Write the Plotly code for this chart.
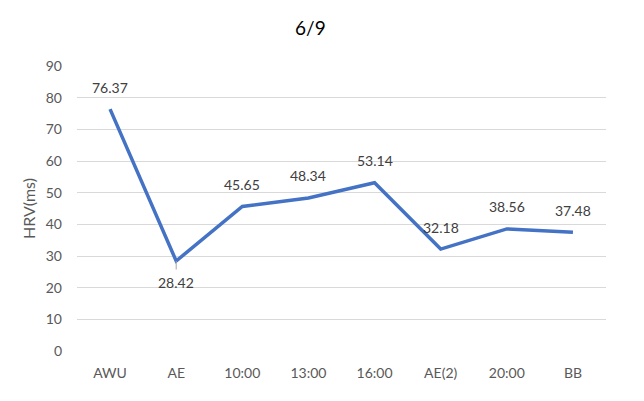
import plotly.graph_objects as go

categories = ["AWU", "AE", "10:00", "13:00", "16:00", "AE(2)", "20:00", "BB"]
hrv = [76.37, 28.42, 45.65, 48.34, 53.14, 32.18, 38.56, 37.48]
y_ticks = list(range(0, 91, 10))

# label offsets (pixels) for data labels, as in the reference
label_dy = [22, -21, 22, 22, 22, 22, 22, 22]

FONT = "Lato, Open Sans, sans-serif"

fig = go.Figure()
fig.add_trace(go.Scatter(
    x=categories, y=hrv, mode="lines",
    line=dict(color="#4472C4", width=3.5),
    hoverinfo="x+y", showlegend=False,
))

for c, v, dy in zip(categories, hrv, label_dy):
    fig.add_annotation(x=c, y=v, text=f"{v:.2f}", showarrow=False,
                       yshift=dy,
                       font=dict(family=FONT, size=14, color="#404040"))

# leader line for the AE label
fig.add_annotation(x=categories[1], y=hrv[1], text="", showarrow=True,
                   ax=0, ay=10, arrowhead=0, arrowwidth=1, arrowcolor="#A6A6A6",
                   standoff=0, startstandoff=0)

fig.update_layout(
    width=644, height=401,
    margin=dict(l=77, r=38, t=66, b=50),
    paper_bgcolor="white", plot_bgcolor="white",
    title=dict(text="6/9", x=0.482, xanchor="center", y=0.93, yanchor="middle",
               font=dict(family=FONT, size=19, color="#000000")),
    font=dict(family=FONT, size=14, color="#595959"),
    xaxis=dict(type="category", range=[-0.5, 7.5], showgrid=False, zeroline=False,
               showline=False, ticks="", ticklabelstandoff=12,
               tickfont=dict(size=14, color="#595959")),
    yaxis=dict(range=[0, 90], tickvals=y_ticks, showgrid=True, gridcolor="#D9D9D9",
               gridwidth=1, zeroline=False, showline=False, ticks="",
               ticklabelstandoff=14,
               title=dict(text="HRV(ms)", standoff=6, font=dict(size=16, color="#595959")),
               tickfont=dict(size=14, color="#595959")),
)

fig.write_html("out.html")
